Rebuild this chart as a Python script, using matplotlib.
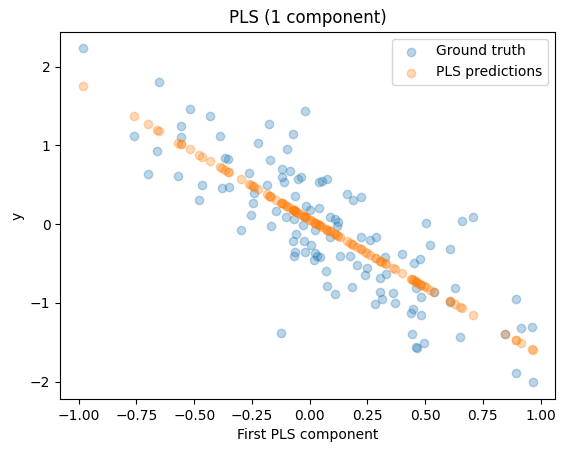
import numpy as np
import matplotlib
matplotlib.use("Agg")
import matplotlib.pyplot as plt

x_component = [-0.983,-0.654,-0.520,-0.430,-0.019,-0.762,-0.555,-0.555,-0.387,-0.175,-0.071,-0.663,-0.222,-0.097,-0.365,-0.352,-0.171,-0.702,-0.568,-0.464,-0.378,-0.348,-0.261,-0.184,-0.119,-0.084,-0.119,-0.110,-0.050,-0.037,-0.240,-0.063,-0.477,-0.244,-0.145,-0.253,-0.102,-0.015,-0.166,-0.296,0.041,0.076,0.054,0.162,0.188,0.222,0.002,0.041,-0.067,-0.028,0.024,0.089,0.110,0.123,0.119,-0.058,-0.071,-0.024,0.006,-0.063,-0.067,-0.019,0.024,0.032,0.045,0.019,0.089,0.132,0.175,0.222,0.261,0.287,0.205,0.248,0.240,0.071,0.076,0.184,0.110,0.305,-0.123,0.503,0.659,0.706,0.326,0.330,0.400,0.451,0.477,0.521,0.607,0.629,0.305,0.361,0.313,0.283,0.369,0.447,0.438,0.482,0.443,0.495,0.460,0.464,0.650,0.892,0.914,0.961,0.845,0.892,0.965,0.482,0.460,0.538,0.607]
y_true = [2.23,1.81,1.46,1.37,1.43,1.12,1.24,1.10,1.12,1.27,1.15,0.93,1.03,0.95,0.84,0.83,0.81,0.64,0.61,0.50,0.46,0.47,0.65,0.50,0.70,0.68,0.60,0.54,0.57,0.60,0.40,0.36,0.30,0.27,0.17,0.11,0.09,0.23,-0.02,-0.08,0.54,0.57,0.55,0.38,0.30,0.35,0.18,0.21,0.07,-0.01,-0.08,0.09,0.07,0.03,-0.02,-0.12,-0.22,-0.22,-0.26,-0.35,-0.41,-0.36,-0.37,-0.40,-0.42,-0.45,-0.17,-0.40,-0.40,-0.16,-0.20,-0.17,-0.52,-0.56,-0.65,-0.60,-0.79,-0.80,-0.89,-0.69,-1.38,0.02,0.04,0.09,-0.42,-0.64,-0.38,-0.50,-0.44,-0.27,-0.32,-0.81,-0.86,-0.88,-0.95,-1.02,-1.00,-1.08,-1.13,-1.15,-1.39,-1.51,-1.56,-1.57,-1.43,-0.95,-1.32,-1.31,-1.39,-1.89,-2.01,-0.92,-0.81,-0.86,-0.99]
# fitted 1-component PLS model
pls_coef = -1.717
pls_intercept = 0.06

x = np.array(x_component)
y_pred = pls_coef * x + pls_intercept

fig = plt.figure(figsize=(5.67, 4.54), dpi=100)
ax = fig.add_subplot(111)
fig.subplots_adjust(left=0.106, right=0.979, top=0.930, bottom=0.121)
ax.scatter(x, y_true, alpha=0.3, label="Ground truth")
ax.scatter(x, y_pred, alpha=0.3, label="PLS predictions")
ax.set(xlabel="First PLS component", ylabel="y", title="PLS (1 component)")
ax.legend()
fig.savefig("out.png")
